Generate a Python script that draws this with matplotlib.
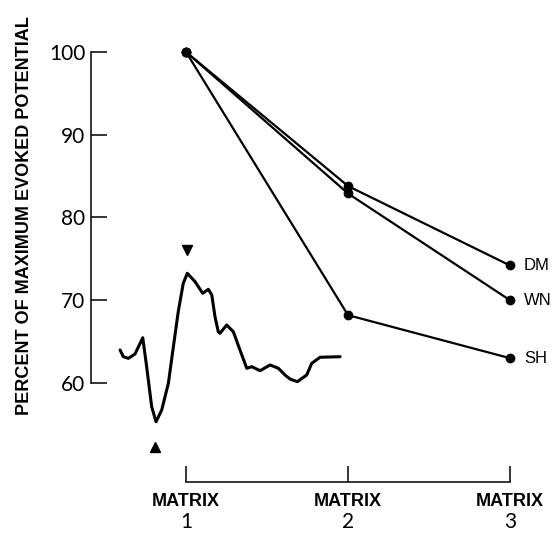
import matplotlib.pyplot as plt

# Daten: Prozent des maximalen evozierten Potentials je Matrix
matrices = [1, 2, 3]
matrix_labels = ['MATRIX', 'MATRIX', 'MATRIX']
matrix_numbers = ['1', '2', '3']
subjects = ['DM', 'WN', 'SH']
dm = [100, 83.8, 74.2]
wn = [100, 82.9, 70.0]
sh = [100, 68.2, 63.0]
y_ticks = [60, 70, 80, 90, 100]

wave_x = [0.593, 0.613, 0.644, 0.685, 0.733, 0.757, 0.788, 0.815, 0.850, 0.891,
          0.922, 0.952, 0.983, 1.008, 1.056, 1.103, 1.138, 1.159, 1.179, 1.199,
          1.210, 1.251, 1.292, 1.333, 1.375, 1.406, 1.457, 1.519, 1.570, 1.611,
          1.642, 1.687, 1.745, 1.776, 1.827, 1.951]
wave_y = [63.99, 63.18, 62.98, 63.50, 65.47, 61.97, 57.14, 55.32, 56.74, 59.96,
          64.39, 68.62, 72.05, 73.26, 72.24, 70.84, 71.32, 70.63, 68.01, 66.20,
          66.01, 67.01, 66.20, 63.99, 61.78, 61.97, 61.49, 62.18, 61.78, 60.97,
          60.48, 60.16, 60.97, 62.38, 63.11, 63.18]
# Pfeilspitzen an Minimum und Maximum
arrow_down = (1.008, 76.1)
arrow_up = (0.809, 52.3)

bold_font = ['Liberation Sans', 'DejaVu Sans']
thin_font = ['Lato', 'DejaVu Sans']

fig = plt.figure(figsize=(5.55, 5.34), dpi=100)
ax = fig.add_axes([0.164, 0.0974, 0.818, 0.884])

for werte, name in zip([dm, wn, sh], subjects):
    ax.plot(matrices, werte, color='black', lw=1.6, marker='o', ms=6,
            clip_on=False, zorder=3)
    ax.annotate(name, (matrices[-1], werte[-1]), xytext=(10, 0),
                textcoords='offset points', va='center', ha='left',
                fontsize=12, family='Liberation Sans')

ax.plot(wave_x, wave_y, color='black', lw=2.2, solid_capstyle='round',
        solid_joinstyle='round')
ax.plot(*arrow_down, marker='v', color='black', ms=7)
ax.plot(*arrow_up, marker='^', color='black', ms=7)

ax.set_xlim(0.4136, 3.216)
ax.set_ylim(48.04, 105.08)

for s in ['top', 'right']:
    ax.spines[s].set_visible(False)
ax.spines['left'].set_bounds(60, 100)
ax.spines['bottom'].set_bounds(1, 3)
ax.spines['left'].set_linewidth(1.1)
ax.spines['bottom'].set_linewidth(1.1)

ax.set_yticks(y_ticks)
ax.set_yticklabels([str(t) for t in y_ticks], fontsize=15, family=thin_font)
ax.tick_params(axis='y', direction='in', length=11.5, width=1.1, pad=4)

ax.set_xticks(matrices)
ax.set_xticklabels(matrix_labels, fontsize=13, family=bold_font,
                   fontweight='bold')
ax.tick_params(axis='x', direction='in', length=11.5, width=1.1, pad=8)

for x, n in zip(matrices, matrix_numbers):
    ax.text(x, -0.085, n, transform=ax.get_xaxis_transform(), ha='center',
            va='center', fontsize=15, family=thin_font)

fig.text(25 / 555, 1 - 216 / 534, 'PERCENT OF MAXIMUM EVOKED POTENTIAL',
         rotation=90, ha='center', va='center', fontsize=13,
         family=bold_font, fontweight='bold')

fig.savefig('out.png', dpi=100)
